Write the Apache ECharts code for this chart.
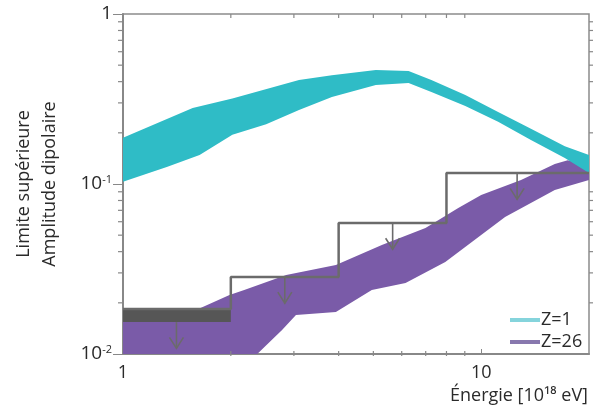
<!DOCTYPE html>
<html>
<head>
<meta charset="utf-8">
<script src="https://cdn.jsdelivr.net/npm/echarts@6/dist/echarts.min.js"></script>
<style>
  html, body { margin: 0; padding: 0; background: #fff; }
  #chart { width: 598px; height: 409px; }
</style>
</head>
<body>
<div id="chart"></div>
<script>
// bande Z=1 (bord haut / bord bas)
var z1UpX = [1, 1.565, 2.02, 3.10, 3.83, 5.08, 6.27, 7.26, 9.03, 11.15, 13.77, 17.12, 20];
var z1UpY = [0.187, 0.280, 0.318, 0.409, 0.436, 0.468, 0.462, 0.409, 0.334, 0.265, 0.211, 0.167, 0.148];
var z1LoX = [1, 1.325, 1.636, 2.02, 2.51, 3.10, 3.83, 5.08, 6.27, 7.26, 9.03, 11.15, 13.77, 17.12, 20];
var z1LoY = [0.103, 0.126, 0.148, 0.195, 0.225, 0.272, 0.325, 0.382, 0.393, 0.348, 0.288, 0.232, 0.1815, 0.142, 0.116];

// bande Z=26
var z26UpX = [1, 1.605, 1.983, 2.18, 2.855, 3.93, 5.28, 6.99, 8.63, 10, 12.92, 16.05, 17.45, 20];
var z26UpY = [0.0163, 0.0182, 0.0222, 0.0238, 0.0292, 0.0334, 0.0438, 0.0551, 0.0722, 0.0862, 0.1056, 0.131, 0.138, 0.128];
var z26LoX = [1, 2.05, 2.37, 2.78, 3.04, 3.93, 4.95, 6.15, 7.94, 11.66, 16.05, 20];
var z26LoY = [0.0041, 0.00703, 0.0100, 0.01384, 0.01695, 0.01767, 0.0238, 0.0262, 0.0348, 0.064, 0.0922, 0.1056];

// limites superieures par intervalle d'energie
var binEdges = [1, 2, 4, 8, 20];
var limitTop = [0.0184, 0.0284, 0.059, 0.116];
var firstBarLow = 0.0154;
var arrowX = [1.41, 2.83, 5.66, 12.6];
var arrowTop = [0.0154, 0.0284, 0.059, 0.116];
var arrowTip = [0.0108, 0.0199, 0.0413, 0.0812];

// graduations
var xMinor = [2, 3, 4, 5, 6, 7, 8, 9];
var yMinor = [0.02, 0.03, 0.04, 0.05, 0.06, 0.07, 0.08, 0.09, 0.2, 0.3, 0.4, 0.5, 0.6, 0.7, 0.8, 0.9];
var xMin = 1, xMax = 20, yMin = 0.01, yMax = 1;

var FONT = 'Open Sans';
var TXT = '#2a2a2a';

function band(upX, upY, loX, loY) {
  return function (params, api) {
    var pts = [];
    for (var i = 0; i < upX.length; i++) pts.push(api.coord([upX[i], upY[i]]));
    for (var j = loX.length - 1; j >= 0; j--) pts.push(api.coord([loX[j], loY[j]]));
    return { type: 'polygon', shape: { points: pts }, style: { fill: api.visual('color') } };
  };
}

var stepData = [];
for (var i = 0; i < limitTop.length; i++) {
  stepData.push([binEdges[i], limitTop[i]]);
  stepData.push([binEdges[i + 1], limitTop[i]]);
}

var myChart = echarts.init(document.getElementById('chart'));
var option = {
  backgroundColor: '#fff',
  animation: false,
  grid: {
    left: 123, right: 9, top: 14, bottom: 55,
    show: true, borderColor: '#8c8c8c', borderWidth: 1.5
  },
  legend: {
    orient: 'vertical',
    left: 505, top: 306,
    itemWidth: 30, itemHeight: 4, itemGap: 4,
    icon: 'rect',
    textStyle: { fontFamily: FONT, fontSize: 18, color: TXT, padding: [0, 0, 0, -4] },
    data: [
      { name: 'Z=1', itemStyle: { color: '#85d4dc' } },
      { name: 'Z=26', itemStyle: { color: '#8878ae' } }
    ]
  },
  xAxis: {
    type: 'log', logBase: 10, min: xMin, max: xMax,
    name: 'Énergie [10¹⁸ eV]',
    nameLocation: 'end', nameGap: -1,
    nameTextStyle: { fontFamily: FONT, fontSize: 18, color: TXT, align: 'right', verticalAlign: 'top', padding: [33, 0, 0, 0] },
    axisLine: { show: true, lineStyle: { color: '#888', width: 2 } },
    axisTick: { show: true, inside: true, length: 5, lineStyle: { color: '#888' } },
    splitLine: { show: false },
    axisLabel: {
      fontFamily: FONT, fontSize: 18, color: TXT, margin: 10, showMaxLabel: false,
      formatter: function (v) {
        var e = Math.log10(v);
        return Math.abs(e - Math.round(e)) < 1e-6 ? String(Math.round(v)) : '';
      }
    }
  },
  yAxis: {
    type: 'log', logBase: 10, min: yMin, max: yMax,
    name: 'Limite supérieure\nAmplitude dipolaire',
    nameLocation: 'middle', nameGap: 60,
    nameTextStyle: { fontFamily: FONT, fontSize: 18, color: TXT, lineHeight: 26 },
    axisLine: { show: true, lineStyle: { color: '#888', width: 2 } },
    axisTick: { show: true, length: 10, lineStyle: { color: '#888' } },
    splitLine: { show: false },
    axisLabel: {
      fontFamily: FONT, fontSize: 18, color: TXT, margin: 11,
      formatter: function (v) {
        var e = Math.round(Math.log10(v));
        if (e === 0) return '{a|1}';
        return '{a|10}{s|' + e + '}';
      },
      rich: {
        a: { fontFamily: FONT, fontSize: 19, color: TXT, lineHeight: 20 },
        s: { fontFamily: FONT, fontSize: 11, color: TXT, verticalAlign: 'top', lineHeight: 20, padding: [0, 0, 6, 0] }
      }
    }
  },
  series: [
    {
      name: 'Z=26', type: 'custom', clip: true,
      itemStyle: { color: '#7a5ba8' },
      renderItem: band(z26UpX, z26UpY, z26LoX, z26LoY),
      data: [[1, 0.05]]
    },
    {
      name: 'Z=1', type: 'custom', clip: true,
      itemStyle: { color: '#2fbcc6' },
      renderItem: band(z1UpX, z1UpY, z1LoX, z1LoY),
      data: [[1, 0.2]]
    },
    {
      // barre epaisse du premier intervalle
      type: 'custom', clip: true, silent: true,
      renderItem: function (params, api) {
        var a = api.coord([binEdges[0], limitTop[0]]);
        var b = api.coord([binEdges[1], firstBarLow]);
        return { type: 'rect', shape: { x: a[0], y: a[1], width: b[0] - a[0], height: b[1] - a[1] }, style: { fill: '#565656' } };
      },
      data: [[1, 0.017]]
    },
    {
      type: 'line', silent: true, symbol: 'none',
      lineStyle: { color: '#6b6b6b', width: 2.5 },
      data: stepData
    },
    {
      // fleches vers le bas
      type: 'custom', silent: true,
      renderItem: function (params, api) {
        var k = params.dataIndex;
        var p0 = api.coord([arrowX[k], arrowTop[k]]);
        var p1 = api.coord([arrowX[k], arrowTip[k]]);
        var st = { stroke: '#6b6b6b', lineWidth: 1.6, fill: null };
        return {
          type: 'group',
          children: [
            { type: 'line', shape: { x1: p0[0], y1: p0[1], x2: p1[0], y2: p1[1] }, style: st },
            { type: 'polyline', shape: { points: [[p1[0] - 7, p1[1] - 11], [p1[0], p1[1]], [p1[0] + 7, p1[1] - 11]] }, style: st }
          ]
        };
      },
      data: arrowX.map(function (x, k) { return [x, arrowTop[k]]; })
    },
    {
      // graduations secondaires
      type: 'custom', silent: true,
      renderItem: function (params, api) {
        var ch = [];
        var st = { stroke: '#888', lineWidth: 1.2 };
        xMinor.forEach(function (v) {
          var b = api.coord([v, yMin]), t = api.coord([v, yMax]);
          ch.push({ type: 'line', shape: { x1: b[0], y1: b[1] + 2, x2: b[0], y2: b[1] - 3 }, style: st });
          ch.push({ type: 'line', shape: { x1: t[0], y1: t[1], x2: t[0], y2: t[1] + 4 }, style: st });
        });
        yMinor.forEach(function (v) {
          var l = api.coord([xMin, v]), r = api.coord([xMax, v]);
          ch.push({ type: 'line', shape: { x1: l[0] - 5, y1: l[1], x2: l[0], y2: l[1] }, style: st });
          ch.push({ type: 'line', shape: { x1: r[0], y1: r[1], x2: r[0] + 4, y2: r[1] }, style: st });
        });
        return { type: 'group', children: ch };
      },
      data: [[1, 0.1]]
    }
  ]
};
myChart.setOption(option);
</script>
</body>
</html>
